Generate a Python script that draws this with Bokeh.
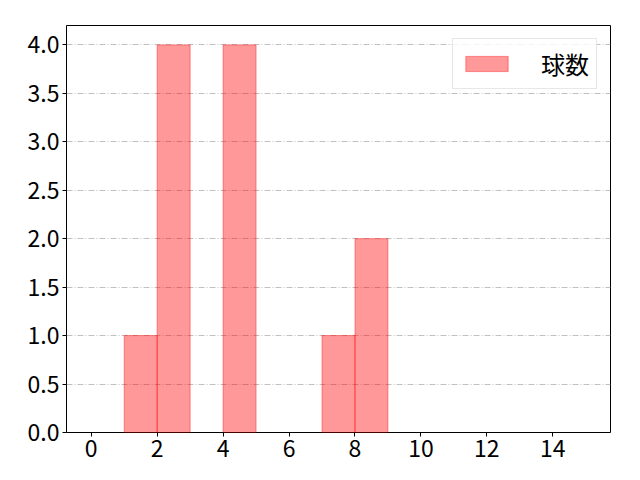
from bokeh.plotting import figure
from bokeh.models import Range1d, FixedTicker, Legend, LegendItem, CustomJSTickFormatter
from bokeh.embed import file_html
from bokeh.resources import INLINE

# Histogram data (bin left edges, counts), bin width 1
bin_left = [1, 2, 4, 7, 8]
counts = [1, 4, 4, 1, 2]
bin_width = 1
x_ticks = [0, 2, 4, 6, 8, 10, 12, 14]
y_ticks = [0.0, 0.5, 1.0, 1.5, 2.0, 2.5, 3.0, 3.5, 4.0]
series_label = "球数"

FONT = "Noto Sans CJK JP"

p = figure(width=640, height=480, output_backend="svg", toolbar_location=None,
           x_range=Range1d(-0.75, 15.75), y_range=Range1d(0, 4.2))
p.min_border_left = 66
p.min_border_right = 30
p.min_border_top = 25
p.min_border_bottom = 48
p.outline_line_color = "black"
p.outline_line_width = 1
p.background_fill_color = "white"
p.border_fill_color = "white"

bin_right = [b + bin_width for b in bin_left]
r = p.quad(left=bin_left, right=bin_right, top=counts, bottom=[0] * len(counts),
           fill_color="red", fill_alpha=0.4, line_color="red", line_alpha=0.4, line_width=1)

p.xgrid.visible = False
p.ygrid.grid_line_color = "#b0b0b0"
p.ygrid.grid_line_dash = "6 2 1 2"
p.ygrid.grid_line_width = 0.8

for ax in (p.xaxis[0], p.yaxis[0]):
    ax.major_label_text_font = FONT
    ax.major_label_text_font_size = "23px"
    ax.major_label_text_color = "black"
    ax.axis_line_color = None
    ax.major_tick_line_color = "black"
    ax.major_tick_out = 4
    ax.major_tick_in = 0
    ax.minor_tick_line_color = None
    ax.major_label_standoff = 3

p.xaxis[0].ticker = FixedTicker(ticks=x_ticks)
p.yaxis[0].ticker = FixedTicker(ticks=y_ticks)
p.yaxis[0].formatter = CustomJSTickFormatter(code="return tick.toFixed(1);")

legend = Legend(items=[LegendItem(label=series_label, renderers=[r])], location="top_right")
legend.label_text_font = FONT
legend.label_text_font_size = "24px"
legend.label_text_color = "black"
legend.glyph_width = 53
legend.glyph_height = 19
legend.label_standoff = 28
legend.padding = 7
legend.margin = 13
legend.label_height = 19
legend.border_line_color = "#d0d0d0"
legend.border_line_width = 1
legend.background_fill_alpha = 0.8
p.add_layout(legend)

open("out.html", "w").write(file_html(p, INLINE))
